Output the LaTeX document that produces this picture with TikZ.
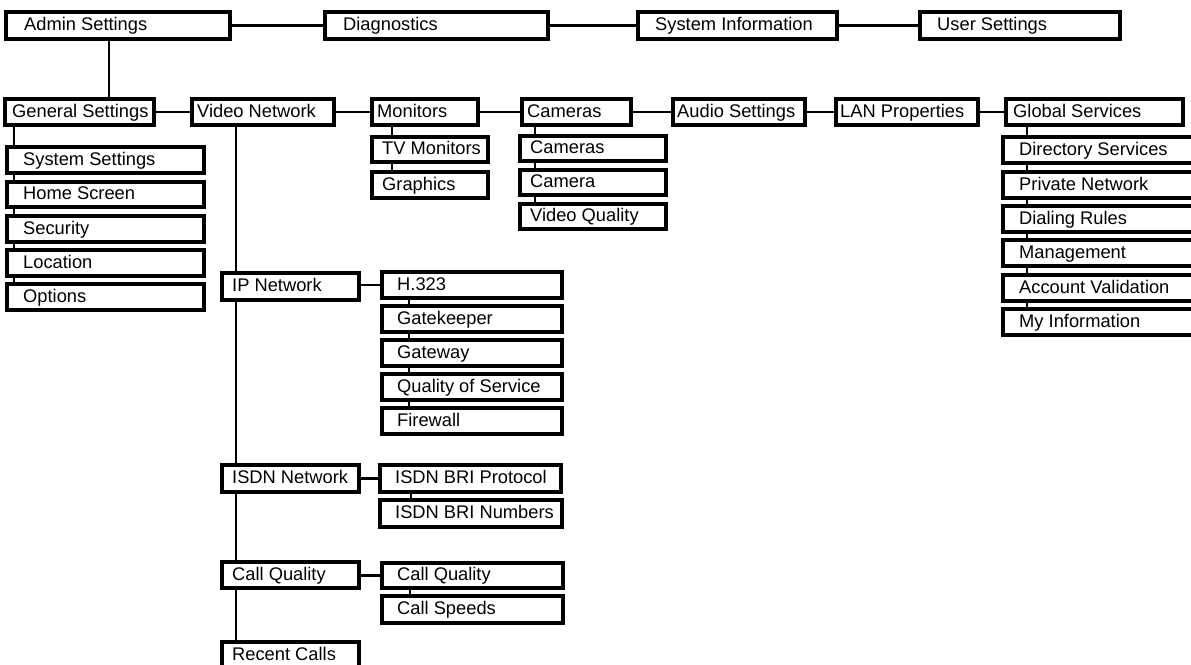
\documentclass[tikz,border=0pt]{standalone}
\usepackage{fontspec}
\setmainfont{Liberation Sans}
\tikzset{
  bx/.style={draw, line width=3.3pt, fill=white, inner sep=0pt, outer sep=0pt},
  lbl/.style={inner sep=0pt, anchor=base west, font=\fontsize{18.3}{20}\selectfont},
  ln/.style={line width=2.2pt},
}
% name, x1, y1, x2, y2, text padding, text
\newcommand\bx[7]{%
  \node[bx, minimum width={(#4-#2)*1pt}, minimum height={(#5-#3)*1pt},
    label={[lbl, xshift=#6pt, yshift=-5.4pt]west:{#7}}]
    (#1) at ({(#2+#4)/2},{-(#3+#5)/2}) {};}
\begin{document}
\begin{tikzpicture}[x=1pt,y=1pt]
\useasboundingbox (0,0) rectangle (1191,-664);
% top row
\bx{admin}{6}{12}{230}{39}{18}{Admin Settings}
\bx{diag}{325}{12}{548}{39}{18}{Diagnostics}
\bx{sysinfo}{638}{12}{837}{39}{17}{System Information}
\bx{user}{920}{12}{1120}{39}{17}{User Settings}
% second row
\bx{general}{5}{99}{154}{125}{7}{General Settings}
\bx{video}{192}{99}{334}{125}{5}{Video Network}
\bx{monitors}{372}{99}{478}{125}{5}{Monitors}
\bx{cameras}{522}{99}{631}{125}{5}{Cameras}
\bx{audio}{673}{99}{805}{125}{4}{Audio Settings}
\bx{lan}{836}{99}{978}{125}{4}{LAN Properties}
\bx{global}{1006}{99}{1183}{125}{7}{Global Services}
% general settings children
\bx{syss}{7}{147}{204}{173}{16}{System Settings}
\bx{home}{7}{182}{204}{207}{16}{Home Screen}
\bx{secu}{7}{216}{204}{242}{16}{Security}
\bx{loca}{7}{250}{204}{276}{16}{Location}
\bx{opti}{7}{284}{204}{310}{16}{Options}
% monitors children
\bx{tvmon}{372}{137}{488}{162}{10}{TV Monitors}
\bx{graph}{372}{172}{488}{198}{10}{Graphics}
% cameras children
\bx{camc}{520}{136}{666}{161}{10}{Cameras}
\bx{camera}{520}{170}{666}{195}{10}{Camera}
\bx{vidq}{520}{204}{666}{229}{10}{Video Quality}
% global services children
\bx{dirs}{1003}{137}{1196}{163}{16}{Directory Services}
\bx{priv}{1003}{172}{1196}{198}{16}{Private Network}
\bx{dial}{1003}{206}{1196}{232}{16}{Dialing Rules}
\bx{mgmt}{1003}{240}{1196}{266}{16}{Management}
\bx{acct}{1003}{275}{1196}{301}{16}{Account Validation}
\bx{myinfo}{1003}{309}{1196}{335}{16}{My Information}
% video network children
\bx{ip}{222}{273}{359}{300}{10}{IP Network}
\bx{isdn}{222}{465}{359}{492}{10}{ISDN Network}
\bx{callq}{222}{562}{359}{588}{10}{Call Quality}
\bx{recent}{222}{642}{359}{669}{10}{Recent Calls}
% ip children
\bx{h323}{382}{272}{562}{298}{15}{H.323}
\bx{gatek}{382}{306}{562}{332}{15}{Gatekeeper}
\bx{gatew}{382}{340}{562}{366}{15}{Gateway}
\bx{qos}{382}{374}{562}{400}{15}{Quality of Service}
\bx{fw}{382}{408}{562}{434}{15}{Firewall}
% isdn children
\bx{proto}{380}{465}{561}{492}{15}{ISDN BRI Protocol}
\bx{numb}{380}{500}{562}{527}{15}{ISDN BRI Numbers}
% call quality children
\bx{cq}{382}{563}{563}{588}{15}{Call Quality}
\bx{speeds}{382}{596}{563}{623}{15}{Call Speeds}
% x positions of vertical connectors
\coordinate (xa) at (109,0);
\coordinate (xg) at (14,0);
\coordinate (xv) at (236,0);
\coordinate (xm) at (392,0);
\coordinate (xc) at (535,0);
\coordinate (xgl) at (1027,0);
\coordinate (xip) at (409,0);
\coordinate (xis) at (411,0);
\coordinate (xcq) at (410,0);
% connectors
\draw[ln] (admin) -- (diag);
\draw[ln] (diag) -- (sysinfo);
\draw[ln] (sysinfo) -- (user);
\draw[ln] (admin.south -| xa) -- (general.north -| xa);
\draw[ln] (general) -- (video);
\draw[ln] (video) -- (monitors);
\draw[ln] (monitors) -- (cameras);
\draw[ln] (cameras) -- (audio);
\draw[ln] (audio) -- (lan);
\draw[ln] (lan) -- (global);
\foreach \a/\b in {general/syss, syss/home, home/secu, secu/loca, loca/opti}
  \draw[ln] (\a.south -| xg) -- (\b.north -| xg);
\foreach \a/\b in {video/ip, ip/isdn, isdn/callq, callq/recent}
  \draw[ln] (\a.south -| xv) -- (\b.north -| xv);
\foreach \a/\b in {monitors/tvmon, tvmon/graph}
  \draw[ln] (\a.south -| xm) -- (\b.north -| xm);
\foreach \a/\b in {cameras/camc, camc/camera, camera/vidq}
  \draw[ln] (\a.south -| xc) -- (\b.north -| xc);
\foreach \a/\b in {global/dirs, dirs/priv, priv/dial, dial/mgmt, mgmt/acct, acct/myinfo}
  \draw[ln] (\a.south -| xgl) -- (\b.north -| xgl);
\foreach \a/\b in {h323/gatek, gatek/gatew, gatew/qos, qos/fw}
  \draw[ln] (\a.south -| xip) -- (\b.north -| xip);
\draw[ln] (proto.south -| xis) -- (numb.north -| xis);
\draw[ln] (cq.south -| xcq) -- (speeds.north -| xcq);
\draw[ln] (ip.east |- h323) -- (h323.west);
\draw[ln] (isdn) -- (proto);
\draw[ln] (callq.east |- cq) -- (cq.west);
\end{tikzpicture}
\end{document}
